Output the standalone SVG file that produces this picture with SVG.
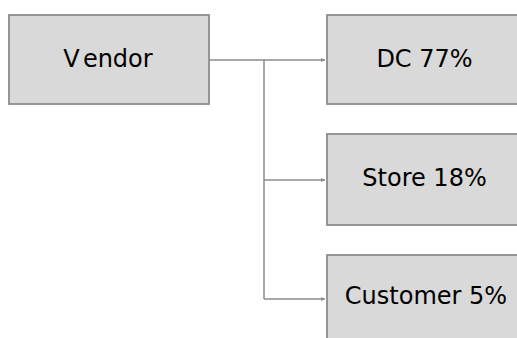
<svg xmlns="http://www.w3.org/2000/svg" width="517" height="338" viewBox="0 0 517 338">
  <style>
    .box { fill: #d9d9d9; stroke: #8c8c8c; stroke-width: 1.8; }
    .lbl { font-family: "DejaVu Sans", "Liberation Sans", sans-serif; font-size: 24px; fill: #000; text-anchor: middle; }
    .wire { fill: none; stroke: #8c8c8c; stroke-width: 1.5; }
  </style>
  <defs>
    <marker id="tip" viewBox="0 0 6 6" refX="6" refY="3" markerWidth="4" markerHeight="4" orient="auto" markerUnits="userSpaceOnUse">
      <path d="M0,0 L6,3 L0,6 z" fill="#8c8c8c"/>
    </marker>
  </defs>
  <rect width="517" height="338" fill="#ffffff"/>
  <g id="connectors">
    <path class="wire" d="M209,60 H264 V299"/>
    <path class="wire" d="M264,60 H325" marker-end="url(#tip)"/>
    <path class="wire" d="M264,180 H325" marker-end="url(#tip)"/>
    <path class="wire" d="M264,299 H325" marker-end="url(#tip)"/>
  </g>
  <g id="vendor">
    <rect class="box" x="9" y="15" width="200" height="89"/>
    <text class="lbl" x="108" y="67">V<tspan dx="5">endor</tspan></text>
  </g>
  <g id="dc">
    <rect class="box" x="327" y="15" width="200" height="89"/>
    <text class="lbl" x="424.5" y="67">DC 77%</text>
  </g>
  <g id="store">
    <rect class="box" x="327" y="134" width="200" height="91"/>
    <text class="lbl" x="424.5" y="186">Store 18%</text>
  </g>
  <g id="customer">
    <rect class="box" x="327" y="255" width="200" height="100"/>
    <text class="lbl" x="426" y="304">Customer 5%</text>
  </g>
</svg>
